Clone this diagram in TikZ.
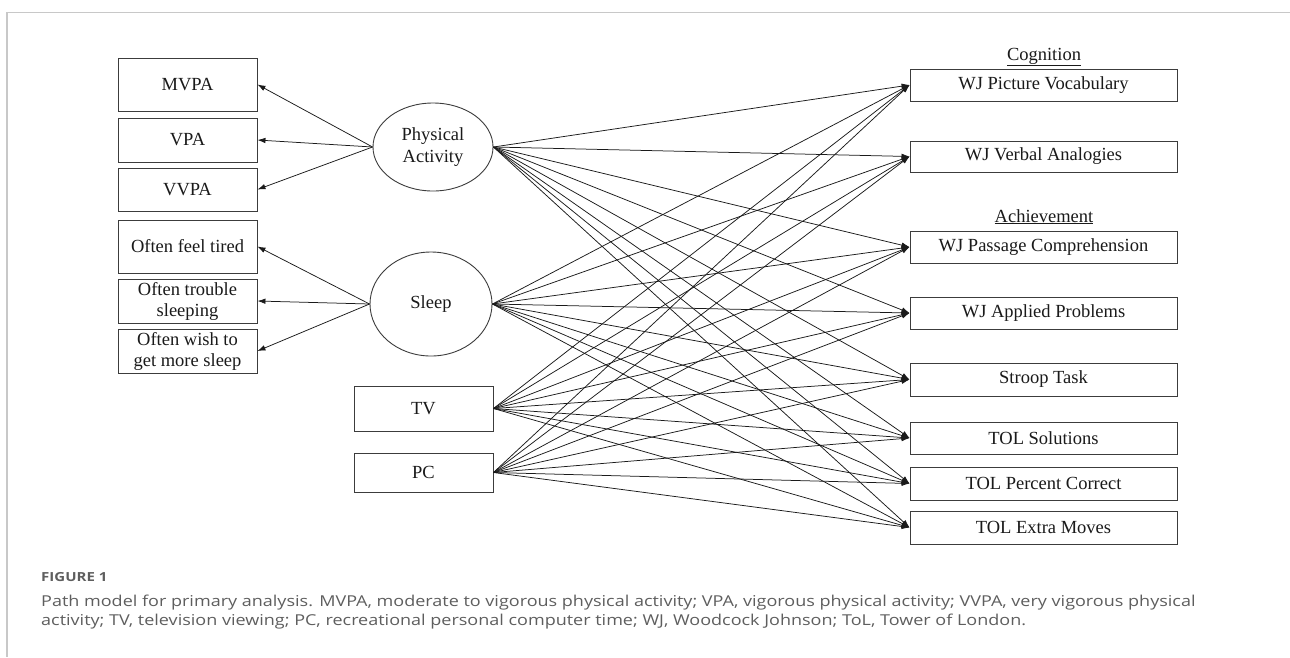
\documentclass[tikz,border=0pt]{standalone}
\usepackage{fontspec}
\setmainfont{Liberation Serif}
\newfontfamily\capfont[FakeStretch=1.2]{Open Sans}
\usetikzlibrary{arrows.meta,shapes.geometric}
\definecolor{capgray}{HTML}{5E5E5E}
\definecolor{framegray}{HTML}{C8C8C8}
\definecolor{ink}{HTML}{1A1A1A}
\tikzset{
  lbox/.style={draw=ink!85,line width=0.9pt,minimum width=139pt,inner sep=0pt,align=center,font=\fontsize{18.5}{22}\selectfont,text=ink},
  rbox/.style={draw=ink!85,line width=0.9pt,minimum width=267pt,inner sep=0pt,align=center,font=\fontsize{18.5}{22}\selectfont,text=ink},
  latent/.style={draw=ink!85,line width=0.9pt,ellipse,inner sep=0pt,align=center,font=\fontsize{18.5}{22}\selectfont,text=ink},
  heading/.style={anchor=base,inner sep=0pt,font=\fontsize{18.5}{22}\selectfont,text=ink},
  path arrow/.style={draw=ink,line width=0.75pt,-{Latex[length=8pt,width=5.5pt]}},
  captext/.style={anchor=base west,inner sep=0pt,text=capgray},
}
\begin{document}
\begin{tikzpicture}[x=1pt,y=-1pt]
\useasboundingbox (0,0) rectangle (1290,657);
\fill[white] (0,0) rectangle (1290,657);
% frame
\coordinate (fa) at (1290,12.5);
\coordinate (fb) at (7,12.5);
\coordinate (fc) at (7,657);
\draw[framegray,line width=1.5pt] (fa) -- (fb) -- (fc);
% left indicator boxes
\node[lbox,minimum height=53pt] (mvpa) at (187.5,84.5) {MVPA};
\node[lbox,minimum height=44pt] (vpa) at (187.5,140) {VPA};
\node[lbox,minimum height=43pt] (vvpa) at (187.5,189.5) {VVPA};
\node[lbox,minimum height=53pt] (tired) at (187.5,246.5) {Often feel tired};
\node[lbox,minimum height=44pt] (trouble) at (187.5,301) {Often trouble\\[-1pt]sleeping};
\node[lbox,minimum height=44pt] (wish) at (187.5,351) {Often wish to\\[-1pt]get more sleep};
% latent variables
\node[latent,minimum width=120pt,minimum height=88pt] (pa) at (433,147) {Physical\\Activity};
\node[latent,minimum width=122pt,minimum height=104pt] (sleep) at (431,304) {Sleep};
% screen time
\node[lbox,minimum height=45pt] (tv) at (423.5,408.5) {TV};
\node[lbox,minimum height=39pt] (pc) at (423.5,472.5) {PC};
% outcomes
\node[heading] (cog) at (1044,60) {\underline{Cognition}};
\node[heading] (ach) at (1044,222) {\underline{Achievement}};
\node[rbox,minimum height=32pt] (o1) at (1043.5,85) {WJ Picture Vocabulary};
\node[rbox,minimum height=31pt] (o2) at (1043.5,156.5) {WJ Verbal Analogies};
\node[rbox,minimum height=32pt] (o3) at (1043.5,247) {WJ Passage Comprehension};
\node[rbox,minimum height=32pt] (o4) at (1043.5,313) {WJ Applied Problems};
\node[rbox,minimum height=33pt] (o5) at (1043.5,379.5) {Stroop Task};
\node[rbox,minimum height=32pt] (o6) at (1043.5,438) {TOL Solutions};
\node[rbox,minimum height=33pt] (o7) at (1043.5,483.5) {TOL Percent Correct};
\node[rbox,minimum height=33pt] (o8) at (1043.5,527.5) {TOL Extra Moves};
% measurement arrows
\foreach \t in {mvpa,vpa,vvpa} \draw[path arrow] (pa.west) -- (\t.east);
\foreach \t in {tired,trouble,wish} \draw[path arrow] (sleep.west) -- (\t.east);
% structural arrows
\foreach \s in {pa,sleep,tv,pc}
  \foreach \t in {o1,o2,o3,o4,o5,o6,o7,o8}
    \draw[path arrow] (\s.east) -- (\t.west);
% caption
\node[captext,font=\capfont\bfseries\fontsize{12.5}{15}\selectfont] (figlab) at (41,581) {FIGURE 1};
\node[captext,font=\capfont\fontsize{15}{18}\selectfont] (cap1) at (41,606) {Path model for primary analysis. MVPA, moderate to vigorous physical activity; VPA, vigorous physical activity; VVPA, very vigorous physical};
\node[captext,font=\capfont\fontsize{15}{18}\selectfont] (cap2) at (41,625) {activity; TV, television viewing; PC, recreational personal computer time; WJ, Woodcock Johnson; ToL, Tower of London.};
\end{tikzpicture}
\end{document}
